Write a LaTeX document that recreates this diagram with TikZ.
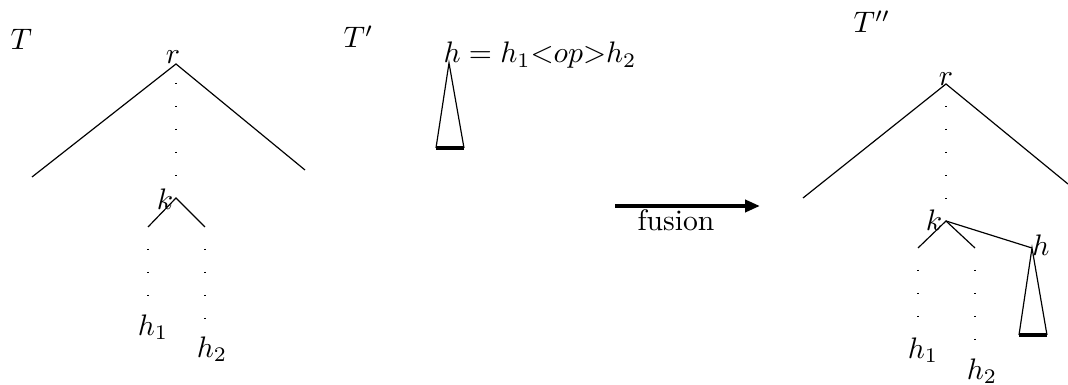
\documentclass[tikz,border=0pt]{standalone}
\usetikzlibrary{arrows.meta, positioning, calc}

\tikzset{
  edge/.style={line width=0.4pt},
  dotline/.style={dash pattern=on 0.45pt off 7.3pt, line width=0.45pt},
  leaf/.style={line width=1.2pt},
  lbl/.style={inner sep=0pt},
  fuse/.style={line width=1.3pt, -{Triangle[length=5pt, width=4pt]}},
}

\begin{document}
\begin{tikzpicture}[x=0.337pt, y=-0.337pt]
\useasboundingbox (0,0) rectangle (1068,385);

% Tree T
\node[lbl, anchor=base west] (tT) at (10,50) {$T$};
\coordinate (Tr) at (176,64);
\coordinate (Tl) at (32,177);
\coordinate (Tg) at (305,170);
\coordinate (Tk) at (176,198);
\coordinate (Tkl) at (148,227);
\coordinate (Tkr) at (205,227);
\node[lbl] (Trl) at (173,57) {$r$};
\node[lbl] (Tkb) at (165,199) {$k$};
\node[lbl] (Th1) at (153,327) {$h_1$};
\node[lbl] (Th2) at (212,349) {$h_2$};

\draw[edge] (Tl) -- (Tr) -- (Tg);
\draw[dotline, shorten <=6.4pt, shorten >=5pt] (Tr) -- (Tk);
\draw[edge] (Tkl) -- (Tk) -- (Tkr);
\draw[dotline, shorten <=7.4pt, shorten >=1pt] (Tkl) -- (Tkl |- Th1.north);
\draw[dotline, shorten <=7.4pt, shorten >=1pt] (Tkr) -- (Tkr |- Th2.north);

% Tree T'
\node[lbl, anchor=base west] (tP) at (343,48) {$T'$};
\node[lbl, anchor=base west] (eq) at (443,63) {$h = h_1{<}op{>}h_2$};
\coordinate (Pa) at (449,63);
\coordinate (Pbl) at (436,148);
\coordinate (Pbr) at (464,148);
\draw[edge] (Pbl) -- (Pa) -- (Pbr);
\draw[leaf] (Pbl) -- (Pbr);

% Fusion arrow
\coordinate (fs) at (615,206);
\coordinate (fe) at (760,206);
\draw[fuse] (fs) -- (fe);
\node[lbl] (fl) at (676,220) {fusion};

% Tree T''
\node[lbl, anchor=base west] (tQ) at (853,33) {$T''$};
\coordinate (Qr) at (946,84);
\coordinate (Ql) at (803,198);
\coordinate (Qg) at (1068,184);
\coordinate (Qk) at (946,221);
\coordinate (Qkl) at (918,248);
\coordinate (Qkr) at (975,248);
\coordinate (Qh) at (1032,248);
\coordinate (Qbl) at (1019,335);
\coordinate (Qbr) at (1047,335);
\node[lbl] (Qrl) at (946,79) {$r$};
\node[lbl] (Qkb) at (934,220) {$k$};
\node[lbl] (Qhb) at (1041,245) {$h$};
\node[lbl] (Qh1) at (923,350) {$h_1$};
\node[lbl] (Qh2) at (982,371) {$h_2$};

\draw[edge] (Ql) -- (Qr) -- (Qg);
\draw[dotline, shorten <=7.4pt, shorten >=5pt] (Qr) -- (Qk);
\draw[edge] (Qkl) -- (Qk) -- (Qkr);
\draw[edge] (Qk) -- (Qh);
\draw[edge] (Qbl) -- (Qh) -- (Qbr);
\draw[leaf] (Qbl) -- (Qbr);
\draw[dotline, shorten <=7.4pt, shorten >=2pt] (Qkl) -- (Qkl |- Qh1.north);
\draw[dotline, shorten <=7.4pt, shorten >=1pt] (Qkr) -- (Qkr |- Qh2.north);

\end{tikzpicture}
\end{document}
